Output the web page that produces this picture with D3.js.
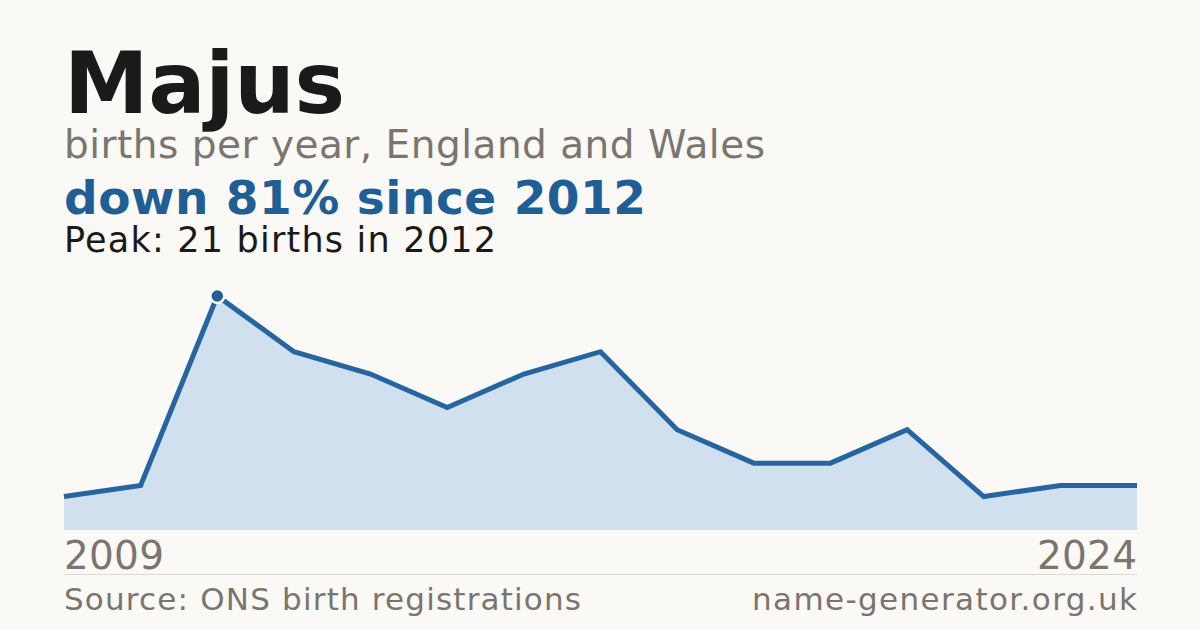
<!DOCTYPE html>
<html>
<head>
<meta charset="utf-8">
<script src="https://cdn.jsdelivr.net/npm/d3@7"></script>
<style>
  html, body { margin: 0; padding: 0; background: #faf9f5; }
  svg { display: block; font-family: "DejaVu Sans", sans-serif; }
</style>
</head>
<body>
<svg id="chart" width="1200" height="630"></svg>
<script>
// Data (years with registered births)
const years = [2009, 2011, 2012, 2013, 2014, 2015, 2016, 2017, 2018, 2019, 2020, 2021, 2022, 2023, 2024];
const births = [3, 4, 21, 16, 14, 11, 14, 16, 9, 6, 6, 9, 3, 4, 4];
const peakYear = 2012;
const peakValue = 21;

const titleText = 'Majus';
const subtitleText = 'births per year, England and Wales';
const changeText = 'down 81% since 2012';
const peakText = `Peak: ${peakValue} births in ${peakYear}`;
const sourceText = 'Source: ONS birth registrations';
const siteText = 'name-generator.org.uk';

(function() {
  const svg = d3.select('#chart');
  const W = 1200, H = 630;
  const left = 64, right = 1137;
  const plotTop = 296, base = 530;

  svg.append('rect').attr('width', W).attr('height', H).attr('fill', '#faf9f5');

  // text helper: size, colour, weight, and the width it spans in the reference
  function label(str, xPos, yPos, size, fill, opts = {}) {
    const t = svg.append('text')
      .attr('x', xPos).attr('y', yPos)
      .attr('font-size', size).attr('fill', fill)
      .attr('font-weight', opts.bold ? 'bold' : 'normal')
      .attr('text-anchor', opts.anchor || 'start')
      .text(str);
    if (opts.width) t.attr('textLength', opts.width).attr('lengthAdjust', 'spacing');
    return t;
  }

  // Header texts
  label(titleText, left, 113, 85, '#1a1a1a', { bold: true, width: 281 });
  label(subtitleText, left, 158, 39, '#7a756e', { width: 701 });
  label(changeText, left, 214, 47, '#1f5f96', { bold: true, width: 582 });
  label(peakText, left, 252, 35, '#1a1a1a', { width: 432 });

  // Scales
  const x = d3.scalePoint().domain(years).range([left, right]);
  const y = d3.scaleLinear().domain([0, peakValue]).range([base, plotTop]);

  const pts = years.map((yr, i) => ({ year: yr, value: births[i] }));

  // Area
  svg.append('path')
    .datum(pts)
    .attr('fill', '#d1e0ef')
    .attr('d', d3.area().x(d => x(d.year)).y0(base).y1(d => y(d.value)));

  // Line
  svg.append('path')
    .datum(pts)
    .attr('fill', 'none')
    .attr('stroke', '#2565a1')
    .attr('stroke-width', 5)
    .attr('stroke-linejoin', 'miter')
    .attr('d', d3.line().x(d => x(d.year)).y(d => y(d.value)));

  // Peak marker
  const peak = pts.find(d => d.year === peakYear);
  svg.append('circle')
    .attr('cx', x(peak.year)).attr('cy', y(peak.value))
    .attr('r', 7)
    .attr('fill', '#1f5f96')
    .attr('stroke', '#ffffff')
    .attr('stroke-width', 2.5);

  // Axis end labels
  label(years[0], left, 569, 39, '#7a756e', { width: 100 });
  label(years[years.length - 1], right, 569, 39, '#7a756e', { anchor: 'end', width: 100 });

  // Separator
  svg.append('line')
    .attr('x1', left).attr('x2', right).attr('y1', 574.5).attr('y2', 574.5)
    .attr('stroke', '#dcd9d2').attr('stroke-width', 1);

  // Footer
  label(sourceText, left, 610, 31, '#7a756e', { width: 517 });
  label(siteText, right, 610, 31, '#7a756e', { anchor: 'end', width: 385 });
})();
</script>
</body>
</html>
